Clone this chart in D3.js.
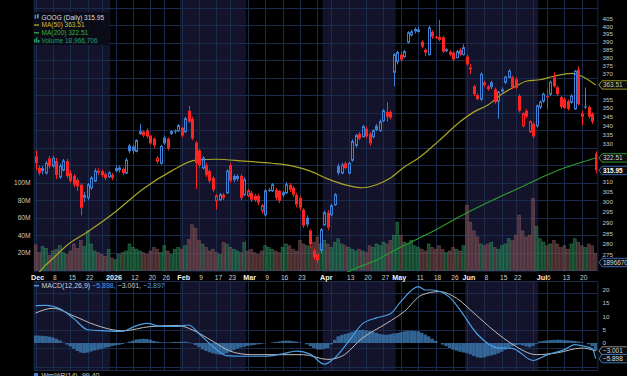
<!DOCTYPE html>
<html><head><meta charset="utf-8">
<script src="https://cdn.jsdelivr.net/npm/d3@7/dist/d3.min.js"></script>
<style>html,body{margin:0;padding:0;background:#000;overflow:hidden}svg{display:block;font-family:"Liberation Sans",Arial,sans-serif}</style>
</head><body>
<svg id="chart" width="627" height="376"></svg>
<script>
const dates=["2025-12-01","2025-12-02","2025-12-03","2025-12-04","2025-12-05","2025-12-08","2025-12-09","2025-12-10","2025-12-11","2025-12-12","2025-12-15","2025-12-16","2025-12-17","2025-12-18","2025-12-19","2025-12-22","2025-12-23","2025-12-24","2025-12-26","2025-12-29","2025-12-30","2025-12-31",
"2026-01-02","2026-01-05","2026-01-06","2026-01-07","2026-01-08","2026-01-09","2026-01-12","2026-01-13","2026-01-14","2026-01-15","2026-01-16","2026-01-20","2026-01-21","2026-01-22","2026-01-23","2026-01-26","2026-01-27","2026-01-28","2026-01-29","2026-01-30",
"2026-02-02","2026-02-03","2026-02-04","2026-02-05","2026-02-06","2026-02-09","2026-02-10","2026-02-11","2026-02-12","2026-02-13","2026-02-17","2026-02-18","2026-02-19","2026-02-20","2026-02-23","2026-02-24","2026-02-25","2026-02-26","2026-02-27",
"2026-03-02","2026-03-03","2026-03-04","2026-03-05","2026-03-06","2026-03-09","2026-03-10","2026-03-11","2026-03-12","2026-03-13","2026-03-16","2026-03-17","2026-03-18","2026-03-19","2026-03-20","2026-03-23","2026-03-24","2026-03-25","2026-03-26","2026-03-27","2026-03-30","2026-03-31",
"2026-04-01","2026-04-02","2026-04-06","2026-04-07","2026-04-08","2026-04-09","2026-04-10","2026-04-13","2026-04-14","2026-04-15","2026-04-16","2026-04-17","2026-04-20","2026-04-21","2026-04-22","2026-04-23","2026-04-24","2026-04-27","2026-04-28","2026-04-29","2026-04-30",
"2026-05-01","2026-05-04","2026-05-05","2026-05-06","2026-05-07","2026-05-08","2026-05-11","2026-05-12","2026-05-13","2026-05-14","2026-05-15","2026-05-18","2026-05-19","2026-05-20","2026-05-21","2026-05-22","2026-05-26","2026-05-27","2026-05-28","2026-05-29",
"2026-06-01","2026-06-02","2026-06-03","2026-06-04","2026-06-05","2026-06-08","2026-06-09","2026-06-10","2026-06-11","2026-06-12","2026-06-15","2026-06-16","2026-06-17","2026-06-18","2026-06-22","2026-06-23","2026-06-24","2026-06-25","2026-06-26","2026-06-29","2026-06-30",
"2026-07-01","2026-07-02","2026-07-06","2026-07-07","2026-07-08","2026-07-09","2026-07-10","2026-07-13","2026-07-14","2026-07-15","2026-07-16","2026-07-17","2026-07-20","2026-07-21","2026-07-22","2026-07-23","2026-07-24"];

const open=[323.4,317.2,317.2,314.6,322.3,318.2,320.8,312.6,316.1,320.8,
314.6,313.1,311.0,308.6,303.6,302.1,307.1,310.6,315.8,315.6,
314.0,312.8,313.6,317.2,317.5,316.8,314.6,329.2,328.6,326.0,
335.6,336.7,337.3,334.5,332.9,320.8,319.7,333.5,332.9,335.6,
337.3,337.3,338.9,336.7,348.4,343.9,330.7,326.5,317.2,318.7,
315.6,312.1,300.6,301.1,303.6,304.6,318.7,313.1,313.1,313.1,
303.6,303.1,304.6,303.1,303.1,295.8,293.8,306.1,305.6,306.1,
305.6,303.6,304.6,308.6,307.1,303.6,302.1,296.3,292.4,286.3,
277.1,275.3,277.1,289.1,294.8,293.8,298.7,318.2,314.6,319.7,
314.6,321.3,329.2,335.6,334.0,338.4,335.6,334.0,340.0,337.3,
342.8,347.8,347.8,371.1,377.7,382.0,380.8,389.9,394.6,398.5,
396.8,390.1,385.1,382.0,396.5,393.3,393.3,393.0,384.5,383.9,
383.3,380.2,385.1,382.0,380.8,374.1,362.7,357.5,355.1,365.1,
362.7,365.1,360.9,354.0,360.9,365.1,368.1,368.1,366.9,356.9,
340.0,348.4,336.7,341.1,340.0,350.6,354.0,356.9,358.0,368.1,
362.1,356.3,355.1,354.0,353.4,349.5,372.9,346.7,351.0,350.6,
346.7,324.9];
const close=[319.7,314.6,315.6,319.7,318.2,322.3,313.6,318.2,320.8,313.1,
310.6,308.6,307.8,297.2,302.1,308.6,312.1,315.6,314.8,313.6,
312.1,314.6,312.1,315.6,316.1,314.6,321.3,326.0,326.3,331.8,
336.7,334.5,334.0,330.2,329.2,322.3,328.6,330.2,327.6,336.7,
336.9,340.0,334.5,343.9,342.2,332.9,319.7,318.7,322.3,313.6,
310.6,306.1,303.1,303.6,302.1,315.6,310.6,311.1,311.6,302.1,
311.1,305.6,301.1,300.9,299.7,298.2,305.6,305.8,308.6,302.1,
300.6,304.6,308.6,306.1,303.6,298.7,297.2,288.6,289.1,279.8,
274.0,272.7,286.7,294.8,287.7,298.2,303.6,314.6,318.7,317.2,
319.7,331.3,334.5,332.9,339.5,334.0,330.2,337.3,337.6,342.2,
348.4,345.0,344.5,382.0,383.3,378.9,383.9,395.9,396.5,396.8,
397.8,387.0,383.3,399.1,393.3,392.7,391.4,383.9,385.1,382.0,
379.0,383.9,382.0,386.4,375.9,372.9,358.0,355.1,369.9,363.3,
360.9,362.1,353.4,359.2,359.6,368.1,371.7,362.1,361.8,348.4,
346.7,345.0,342.2,334.0,351.2,353.4,358.0,356.3,365.1,362.7,
358.0,350.6,350.0,349.5,356.9,371.7,352.3,345.0,350.6,345.0,
342.2,315.95];
const high=[326.5,318.5,318.2,321.0,323.5,323.5,322.5,319.5,322.0,322.0,
316.0,314.0,312.0,309.5,305.0,309.5,313.0,317.0,317.0,316.5,
315.0,315.5,314.5,318.5,318.5,317.5,322.5,330.0,329.5,332.5,
341.0,337.5,338.5,335.0,333.5,323.5,329.5,334.5,333.5,337.5,
338.0,341.0,339.5,345.0,351.2,345.0,331.5,327.5,323.5,320.0,
316.5,313.0,304.0,304.5,304.5,316.5,320.0,314.0,314.0,314.0,
312.5,306.5,305.5,304.0,304.0,299.0,306.5,307.0,309.5,307.0,
306.0,305.5,310.0,309.5,308.0,304.5,303.0,297.0,293.5,287.0,
278.0,276.0,287.5,295.8,296.0,299.0,304.5,319.5,320.0,320.5,
320.5,332.5,335.5,336.5,340.5,339.5,336.5,338.0,341.0,343.5,
349.5,353.4,348.5,383.0,384.5,383.5,385.0,397.0,398.0,399.5,
400.0,391.0,386.0,400.5,397.5,394.0,404.3,394.0,386.0,384.8,
384.0,385.0,386.0,388.5,382.0,376.0,363.5,358.5,371.0,366.0,
363.5,366.0,362.0,360.0,362.0,369.0,373.0,369.0,368.0,358.0,
347.5,349.5,343.0,342.0,352.0,354.5,359.0,360.9,366.0,371.0,
363.0,357.0,356.0,355.0,358.0,372.5,374.7,348.4,362.0,351.5,
347.5,326.0];
const low=[316.1,313.5,314.0,313.8,317.0,317.5,311.6,311.5,315.5,312.0,
309.5,307.5,305.5,293.5,300.0,301.0,306.0,310.0,313.5,312.5,
311.0,312.0,311.0,315.0,315.0,313.5,314.0,325.0,324.5,325.5,
335.0,333.5,333.0,329.5,328.0,319.5,319.0,329.5,326.5,335.0,
335.5,336.5,333.5,336.0,341.5,332.0,306.5,317.5,316.5,312.5,
309.5,305.0,296.3,300.5,301.0,304.0,309.5,310.0,310.5,301.0,
303.0,302.5,300.0,300.0,298.5,294.5,293.0,305.0,305.0,301.0,
299.5,302.5,304.0,305.0,302.5,297.5,296.0,287.5,288.0,278.5,
272.8,271.5,276.0,288.5,286.5,293.0,298.0,313.5,314.0,316.5,
314.0,320.5,328.0,332.0,333.5,333.0,329.0,333.0,337.0,336.5,
342.0,342.2,343.5,362.7,376.0,377.5,380.0,389.0,393.5,395.5,
396.0,386.0,381.0,381.5,392.0,392.0,390.5,383.0,383.5,381.0,
378.0,379.5,381.0,381.5,375.0,370.0,357.0,354.5,354.0,362.0,
360.0,361.0,352.5,343.9,358.5,364.0,367.5,361.0,361.0,347.5,
339.0,344.0,336.0,333.0,339.0,349.5,353.0,349.5,357.0,362.0,
357.0,349.5,349.5,348.5,352.5,349.0,351.5,340.0,349.5,344.0,
341.0,314.5];
// volume, millions of shares
const volume=[29,20,27,25,17,22,24,28,20,18,22,30,25,34,27,45,30,22,20,18,16,24,
14,12,18,20,22,30,26,24,22,20,18,22,26,24,20,28,22,18,24,26,
24,28,35,52,48,34,30,26,22,24,20,18,32,30,26,24,22,20,32,
22,24,20,18,22,28,26,24,22,20,26,30,28,24,22,34,30,28,27,32,38,30,
34,30,26,32,36,30,28,26,24,22,24,22,20,28,26,30,28,32,30,34,40,
55,40,32,30,34,28,26,24,22,30,26,24,28,24,20,22,26,24,22,28,
74,55,45,38,30,28,30,32,26,24,28,30,36,34,40,63,45,38,40,82,50,
36,32,28,30,34,30,26,28,24,30,36,32,28,26,30,28,18.966706];
// moving averages read at selected sessions (session index, value)
const ma50Day=[0,2,5,9,15,23,31,39,46,52,60,68,74,79,84,89,94,98,102,106,110,116,122,126,130,134,138,141,145,149,154,157,161];
const ma50Val=[265.3,269.1,273.5,279.4,285.7,295.3,306.6,315.6,321.3,321.8,320.8,319.7,318.2,315.6,311.6,308.6,307.1,308.6,312.1,317.7,322.3,331.8,342.2,347.8,351.7,358.0,362.7,365.7,366.6,368.7,370.5,368.7,363.51];
const ma200Day=[85,91,98,105,114,122,131,140,147,151,157,161];
const ma200Val=[264.0,268.4,272.8,278.7,285.7,293.0,300.6,307.8,313.6,316.6,320.3,322.51];
const macdDay=[0,3,7,11,15,20,25,28,32,36,41,44,47,51,55,59,66,71,75,79,83,86,90,94,98,102,105,110,112,114,119,122,127,133,137,143,147,152,155,158,160,161];
const macdVal=[14.1,14.2,12.9,9.2,5.0,4.6,4.4,6.0,7.4,6.3,6.3,6.8,3.5,-1.3,-4.8,-5.0,-5.0,-4.1,-3.1,-4.2,-8.0,-5.6,0.6,7.3,9.5,11.0,15.6,21.3,20.0,20.0,17.3,12.5,3.3,-1.9,-2.0,-6.6,-4.5,-2.5,-0.6,-1.3,-2.1,-5.898];
const signalDay=[0,5,11,17,25,33,41,45,51,56,62,71,77,84,88,94,101,106,111,116,121,126,132,137,144,150,157,161];
const signalVal=[11.3,13.1,10.2,6.9,4.6,6.2,6.6,5.0,0.6,-3.1,-4.4,-4.4,-4.4,-6.2,-5.0,1.9,7.5,11.9,18.1,19.4,16.9,11.3,4.4,-0.4,-4.4,-3.7,-1.9,-3.001];
const histVal=[2.8,2.8,2.7,2.6,2.4,2.1,1.6,1.0,0.2,-0.6,-1.3,
-2.2,-3.0,-3.6,-3.8,-3.6,-3.2,
-2.8,-2.5,-2.2,-1.8,-1.5,-1.2,-0.9,-0.7,-0.4,
0.1,0.5,0.9,1.3,1.5,1.6,1.5,1.2,0.8,0.5,
0.3,0.2,0.2,0.3,0.4,0.4,0.5,0.5,0.3,-0.2,
-0.8,-1.6,-2.4,-3.0,-3.5,-3.9,-4.2,-4.4,-4.3,-3.9,
-3.2,-2.6,-2.1,-1.7,-1.4,-1.1,-0.9,-0.7,-0.5,-0.3,
-0.1,0.0,0.2,0.4,0.6,0.8,0.9,0.9,0.7,0.5,
0.2,0.0,-0.5,-1.2,-1.9,-2.4,-2.5,-2.2,-1.9,-0.5,
1.2,2.5,3.0,3.4,3.75,4.2,4.6,4.9,5.0,4.8,
4.5,4.2,3.8,3.4,3.2,3.1,3.3,3.6,3.8,4.1,
4.4,4.6,4.6,4.5,4.4,3.9,3.2,2.5,1.6,0.8,
0.0,-0.6,-1.2,-1.9,-2.5,-2.9,-3.3,-3.6,-3.8,-4.3,
-4.9,-5.4,-5.6,-5.4,-5.0,-4.7,-4.4,-3.9,-3.3,-2.5,
-1.9,-1.3,-0.8,-0.6,-0.9,-1.3,-1.6,-1.1,-0.3,0.6,
0.8,1.0,1.1,1.2,1.25,1.2,1.1,1.0,0.9,0.8,
0.6,0.3,0.0,-0.5,-1.2,-2.897];
const tickDates=["2025-12-01","2025-12-08","2025-12-15","2025-12-22","2026-01-02","2026-01-12","2026-01-20","2026-01-26","2026-02-02","2026-02-09","2026-02-17","2026-02-23","2026-03-02","2026-03-09","2026-03-16","2026-03-23","2026-04-01","2026-04-13","2026-04-20","2026-04-27","2026-05-01","2026-05-11","2026-05-18","2026-05-26","2026-06-01","2026-06-08","2026-06-15","2026-06-22","2026-07-01","2026-07-06","2026-07-13","2026-07-20"];
const tickText=["Dec","8","15","22","2026","12","20","26","Feb","9","17","23","Mar","9","16","23","Apr","13","20","27","May","11","18","26","Jun","8","15","22","Jul","6","13","20"];
const priceTicks=d3.range(270,406,5);
const volTicks=[20,40,60,80,100];
const volGrid=d3.range(0,320,20);
const macdTicks=[0,5,10,15,20];
const macdGrid=[19,12,5,-2,-9];

// ---------- layout ----------
const svg=d3.select("#chart");
const pL=33.8,pR=597.4,mainTop=0,mainBot=272,macdTop=281,macdBot=370.5;
const x=d3.scaleBand().domain(dates).range([pL,pR]);
const bw=x.bandwidth();
const xc=i=>x(dates[i])+bw/2;
const y=d3.scaleLog().domain([405,270]).range([19,266.3]);
const yv=d3.scaleLinear().domain([0,100]).range([270.2,182.7]);
const ym=d3.scaleLinear().domain([0,20]).range([343,290]);
const parse=d3.timeParse("%Y-%m-%d");

const C={navy:"#13132c",grid:"#1a2b4b",red:"#ff2424",blue:"#3d80d8",ma50:"#a9a424",ma200:"#2f9a2f",txt:"#c9c9c9"};

svg.append("rect").attr("width",627).attr("height",376).attr("fill","#000");
const defs=svg.append("defs");
defs.append("clipPath").attr("id","cm").append("rect").attr("x",pL).attr("y",mainTop).attr("width",pR-pL).attr("height",mainBot-mainTop);
defs.append("clipPath").attr("id","cd").append("rect").attr("x",pL).attr("y",macdTop).attr("width",pR-pL).attr("height",macdBot-macdTop);

// month shading
const monthKeys=[...new Set(dates.map(d=>d.slice(0,7)))];
monthKeys.forEach((m,k)=>{
  if(k%2) return;
  const first=dates.findIndex(d=>d.startsWith(m));
  const nextKey=monthKeys[k+1];
  const x0=x(dates[first]);
  const x1=nextKey?x(dates[dates.findIndex(d=>d.startsWith(nextKey))]):pR;
  [[mainTop,mainBot],[macdTop,macdBot]].forEach(([a,b])=>{
    svg.append("rect").attr("x",x0).attr("y",a).attr("width",x1-x0).attr("height",b-a).attr("fill",C.navy);
  });
});

// grid
const gridG=svg.append("g").attr("stroke",C.grid).attr("stroke-width",1);
const weekIdx=dates.map((d,i)=>i).filter(i=>i===0||+d3.timeMonday.floor(parse(dates[i]))!==+d3.timeMonday.floor(parse(dates[i-1])));
weekIdx.forEach(i=>{
  const gx=Math.round(xc(i))+0.5;
  gridG.append("line").attr("x1",gx).attr("x2",gx).attr("y1",mainTop).attr("y2",mainBot);
  gridG.append("line").attr("x1",gx).attr("x2",gx).attr("y1",macdTop).attr("y2",macdBot);
});
volGrid.forEach(v=>{const gy=Math.round(yv(v))+0.5; if(gy>mainTop&&gy<mainBot) gridG.append("line").attr("x1",pL).attr("x2",pR).attr("y1",gy).attr("y2",gy);});
macdGrid.forEach(v=>{const gy=Math.round(ym(v))+0.5; gridG.append("line").attr("x1",pL).attr("x2",pR).attr("y1",gy).attr("y2",gy);});
[pL,pR].forEach(px=>{gridG.append("line").attr("x1",px+0.5).attr("x2",px+0.5).attr("y1",mainTop).attr("y2",mainBot);gridG.append("line").attr("x1",px+0.5).attr("x2",px+0.5).attr("y1",macdTop).attr("y2",macdBot);});
gridG.append("line").attr("x1",pL).attr("x2",pR).attr("y1",macdTop+0.5).attr("y2",macdTop+0.5);
gridG.append("line").attr("x1",pL).attr("x2",pR).attr("y1",macdBot).attr("y2",macdBot);

// volume
const isUp=i=>i===0?close[0]>=open[0]:close[i]>=close[i-1];
const mainG=svg.append("g").attr("clip-path","url(#cm)");
mainG.append("g").selectAll("rect").data(volume).join("rect")
  .attr("x",(v,i)=>x(dates[i])+0.3).attr("width",bw-0.6)
  .attr("y",v=>yv(v)).attr("height",v=>yv(0)-yv(v))
  .attr("fill",(v,i)=>isUp(i)?"rgba(34,125,80,0.55)":"rgba(125,78,78,0.55)")
  .attr("stroke",(v,i)=>isUp(i)?"rgba(70,175,115,0.55)":"rgba(170,110,110,0.5)")
  .attr("stroke-width",0.6);

// moving averages
const line=d3.line().x(d=>xc(d[0])).y(d=>y(d[1])).curve(d3.curveMonotoneX);
mainG.append("path").attr("d",line(ma200Day.map((d,k)=>[d,ma200Val[k]]))).attr("fill","none").attr("stroke",C.ma200).attr("stroke-width",1.1);
mainG.append("path").attr("d",line(ma50Day.map((d,k)=>[d,ma50Val[k]]))).attr("fill","none").attr("stroke",C.ma50).attr("stroke-width",1.2);

// candles
const cg=mainG.append("g");
dates.forEach((d,i)=>{
  const col=isUp(i)?C.blue:C.red;
  const cx=Math.round(xc(i))+0.5;
  const yo=y(open[i]),yc=y(close[i]);
  const top=Math.min(yo,yc),bot=Math.max(yo,yc);
  const hollow=close[i]>open[i];
  cg.append("line").attr("x1",cx).attr("x2",cx).attr("y1",y(high[i])).attr("y2",top).attr("stroke",col).attr("stroke-width",1);
  cg.append("line").attr("x1",cx).attr("x2",cx).attr("y1",bot).attr("y2",y(low[i])).attr("stroke",col).attr("stroke-width",1);
  if(hollow){
    cg.append("rect").attr("x",cx-1).attr("y",top).attr("width",2).attr("height",Math.max(bot-top,1))
      .attr("fill","none").attr("stroke",col).attr("stroke-width",1);
  }else{
    cg.append("rect").attr("x",cx-1.5).attr("y",top).attr("width",3).attr("height",Math.max(bot-top,1.2)).attr("fill",col);
  }
});

// MACD panel
const dG=svg.append("g").attr("clip-path","url(#cd)");
dG.append("g").selectAll("rect").data(histVal).join("rect")
  .attr("x",(v,i)=>x(dates[i])).attr("width",bw)
  .attr("y",v=>Math.min(ym(v),ym(0))).attr("height",v=>Math.abs(ym(v)-ym(0)))
  .attr("fill","#3a74aa").attr("opacity",0.85);
const mline=d3.line().x(d=>xc(d[0])).y(d=>ym(d[1])).curve(d3.curveMonotoneX);
dG.append("path").attr("d",mline(signalDay.map((d,k)=>[d,signalVal[k]]))).attr("fill","none").attr("stroke","#bdbdbd").attr("stroke-width",1);
dG.append("path").attr("d",mline(macdDay.map((d,k)=>[d,macdVal[k]]))).attr("fill","none").attr("stroke","#4a9fe6").attr("stroke-width",1.2);

// value tags positions (used to keep axis labels from sitting under them)
const tagYs=[y(ma50Val[ma50Val.length-1]),y(ma200Val[ma200Val.length-1]),y(close[close.length-1]),262.5];
const macdTagYs=[ym(signalVal[signalVal.length-1]),ym(macdVal[macdVal.length-1])];

// axes text
const t=svg.append("g").attr("font-size",6.2).attr("fill",C.txt);
priceTicks.forEach(p=>{const py=y(p); if(tagYs.some(ty=>Math.abs(ty-py)<6.5)) return; t.append("text").attr("x",602.5).attr("y",py+2.2).text(p);});
macdTicks.forEach(v=>{const py=ym(v); if(macdTagYs.some(ty=>Math.abs(ty-py)<6.5)) return; t.append("text").attr("x",602.5).attr("y",py+2.2).text(v);});
volTicks.forEach(v=>t.append("text").attr("x",30.5).attr("y",yv(v)+2.3).attr("text-anchor","end").attr("font-size",6.6).text(v+"M"));
tickDates.forEach((d,k)=>{
  const i=dates.indexOf(d);const s=tickText[k];const bold=isNaN(+s)||s.length===4;
  t.append("text").attr("x",xc(i)+2).attr("y",279.5).attr("text-anchor","middle")
   .attr("font-size",bold?7.2:6.6).attr("font-weight",bold?"bold":"normal").attr("fill",bold?"#f2f2f2":"#cfcfcf").text(s);
});

// value tags on right axis
function tag(yy,text,stroke,fill,bold){
  const x0=599,h=8.4;
  svg.append("path").attr("d",`M${x0},${yy} L${x0+3},${yy-h/2} L630,${yy-h/2} L630,${yy+h/2} L${x0+3},${yy+h/2} Z`)
    .attr("fill","#0d0d0d").attr("stroke",stroke).attr("stroke-width",0.9);
  svg.append("text").attr("x",x0+4).attr("y",yy+2.3).attr("font-size",6.4).attr("font-weight",bold?"bold":"normal").attr("fill",fill).text(text);
}
tag(tagYs[0],d3.format(".2f")(ma50Val[ma50Val.length-1]),C.ma50,"#d0d0a0",false);
tag(tagYs[1],d3.format(".2f")(ma200Val[ma200Val.length-1]),"#2fa62f","#d8d8d8",false);
tag(tagYs[2],d3.format(".2f")(close[close.length-1]),"#3d74c4","#ffffff",true);
tag(tagYs[3],d3.format("d")(volume[volume.length-1]*1e6),"#3d74c4","#d8d8d8",false);
tag(macdTagYs[0],d3.format(".3f")(signalVal[signalVal.length-1]),"#9a9a9a","#d8d8d8",false);
tag(macdTagYs[1],d3.format(".3f")(macdVal[macdVal.length-1]),"#3d80c8","#cfe0f0",false);

// legend (main)
const lg=svg.append("g");
lg.append("rect").attr("x",pL).attr("y",12).attr("width",76).attr("height",33).attr("fill","#0b0b14").attr("opacity",0.85);
const legItems=[
  {t:"GOOG (Daily) "+d3.format(".2f")(close[close.length-1]),c:"#dcdcdc",k:"c"},
  {t:"MA(50) "+d3.format(".2f")(ma50Val[ma50Val.length-1]),c:"#c8c030",k:"l",lc:C.ma50},
  {t:"MA(200) "+d3.format(".2f")(ma200Val[ma200Val.length-1]),c:"#34b034",k:"l",lc:"#2fa62f"},
  {t:"Volume "+d3.format(",")(Math.round(volume[volume.length-1]*1e6)),c:"#25a06a",k:"v"}];
legItems.forEach((it,k)=>{
  const cy=17.3+k*7.75;
  if(it.k==="c"){lg.append("rect").attr("x",34.5).attr("y",cy-2.5).attr("width",1.6).attr("height",4).attr("fill",C.blue);lg.append("rect").attr("x",37).attr("y",cy-3).attr("width",1.6).attr("height",4).attr("fill","#5aa0f0");}
  else if(it.k==="l"){lg.append("rect").attr("x",34).attr("y",cy-0.7).attr("width",5).attr("height",1.4).attr("fill",it.lc);}
  else{lg.append("rect").attr("x",34).attr("y",cy-1.5).attr("width",1.5).attr("height",3.5).attr("fill","#25a06a");lg.append("rect").attr("x",36).attr("y",cy-3).attr("width",1.5).attr("height",5).attr("fill","#25a06a");lg.append("rect").attr("x",38).attr("y",cy-0.5).attr("width",1.5).attr("height",2.5).attr("fill","#25a06a");}
  lg.append("text").attr("x",41.5).attr("y",cy+2.3).attr("font-size",6.5).attr("fill",it.c).text(it.t);
});

// legend (MACD)
const ml=svg.append("g").attr("font-size",7);
ml.append("rect").attr("x",34).attr("y",285).attr("width",5).attr("height",1.4).attr("fill","#4a9fe6");
const mt=ml.append("text").attr("x",41.5).attr("y",288.3);
mt.append("tspan").attr("fill","#cfcfcf").text("MACD(12,26,9) ");
mt.append("tspan").attr("fill","#4a9fe6").text(d3.format(".3f")(macdVal[macdVal.length-1])+", ");
mt.append("tspan").attr("fill","#cfcfcf").text(d3.format(".3f")(signalVal[signalVal.length-1])+", ");
mt.append("tspan").attr("fill","#4a9fe6").text(d3.format(".3f")(histVal[histVal.length-1]));

// Williams %R legend (panel cut off at bottom)
ml.append("rect").attr("x",34).attr("y",373).attr("width",4).attr("height",4).attr("fill","#3d80d8");
ml.append("text").attr("x",41.5).attr("y",378).attr("fill","#cfcfcf").text("Wm%R(14) -99.40");
</script></body></html>
